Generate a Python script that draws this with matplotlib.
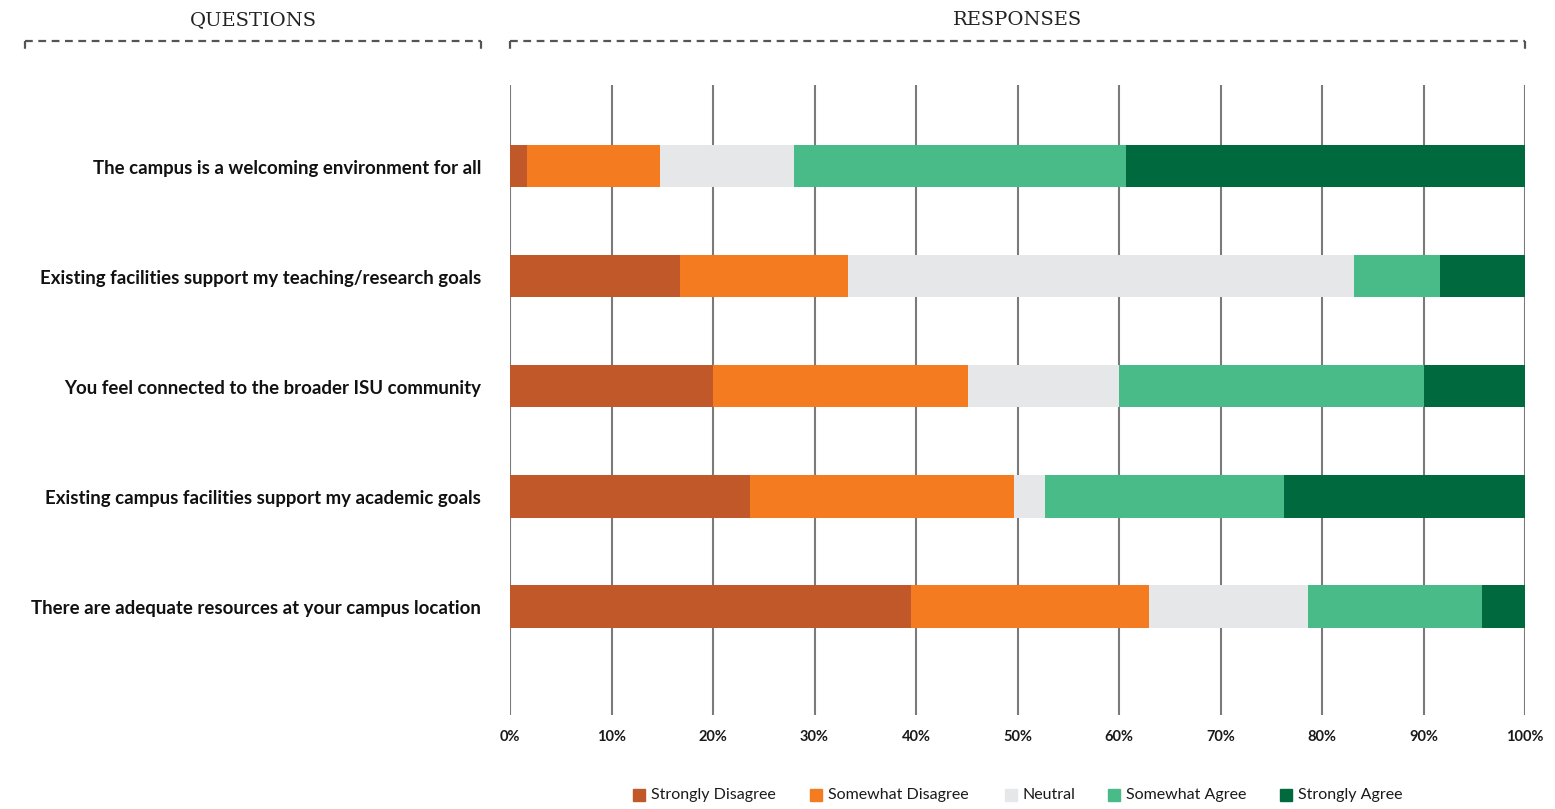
import matplotlib
matplotlib.use("Agg")
import matplotlib.pyplot as plt
from matplotlib.lines import Line2D
from matplotlib.patches import Rectangle
import numpy as np

questions = [
    "The campus is a welcoming environment for all",
    "Existing facilities support my teaching/research goals",
    "You feel connected to the broader ISU community",
    "Existing campus facilities support my academic goals",
    "There are adequate resources at your campus location",
]
categories = ["Strongly Disagree", "Somewhat Disagree", "Neutral",
              "Somewhat Agree", "Strongly Agree"]
strongly_disagree = [1.7, 16.7, 20.0, 23.6, 39.5]
somewhat_disagree = [13.1, 16.6, 25.1, 26.1, 23.5]
neutral = [13.2, 49.9, 14.9, 3.0, 15.6]
somewhat_agree = [32.7, 8.4, 30.0, 23.6, 17.2]
strongly_agree = [39.3, 8.4, 10.0, 23.7, 4.2]
tick_values = list(range(0, 101, 10))
tick_labels = [f"{v}%" for v in tick_values]

colors = ["#C0582A", "#F47B20", "#E6E7E8", "#48BB88", "#00693E"]

W, H = 1555, 809
fig = plt.figure(figsize=(W / 100, H / 100), dpi=100)
fig.patch.set_facecolor("white")


def fx(px):
    return px / W


def fy(py):
    return 1 - py / H


ax = fig.add_axes([fx(510), fy(715), fx(1525) - fx(510), fy(85) - fy(715)])
series = [strongly_disagree, somewhat_disagree, neutral, somewhat_agree, strongly_agree]
y = np.arange(len(questions))
left = np.zeros(len(questions))
for vals, col, name in zip(series, colors, categories):
    ax.barh(y, vals, left=left, height=0.39, color=col, label=name, zorder=3,
            linewidth=0)
    left += np.array(vals)

ax.set_xlim(0, 100)
ax.set_ylim(4.99, -0.736)
for v in tick_values:
    ax.axvline(v, color="#7a7a7a", lw=1.5, zorder=1)
for s in ax.spines.values():
    s.set_visible(False)
ax.set_yticks([])
ax.set_xticks(tick_values)
ax.set_xticklabels(tick_labels, fontsize=10.5, fontweight="bold",
                   family="Lato", color="#1a1a1a")
ax.tick_params(axis="x", length=0, pad=11)

# question labels, right-aligned against the left edge of the bars
label_x = fx(481)
for i, q in enumerate(questions):
    yd = ax.transData.transform((0, i + 0.02))[1]
    fig.text(label_x, yd / fig.bbox.height, q, ha="right", va="center",
             fontsize=13.4, fontweight="bold", family="Lato", color="#111111")

# section headers with dashed brackets
for label, x0, x1 in [("QUESTIONS", 25, 481), ("RESPONSES", 510, 1525)]:
    fig.text(fx((x0 + x1) / 2), fy(20), label, ha="center", va="center",
             fontsize=14, family="DejaVu Serif", color="#222222",
             fontweight="light")
    fig.add_artist(Line2D([fx(x0), fx(x1)], [fy(41), fy(41)], lw=1.6,
                          color="#555555", linestyle=(0, (3.5, 2.5))))
    for xe in (x0, x1):
        fig.add_artist(Line2D([fx(xe), fx(xe)], [fy(40.5), fy(53)], lw=1.6,
                              color="#555555", linestyle=(0, (3.5, 2.5))))

# legend
leg_items = [(633, 651), (810, 828), (1005, 1022), (1108, 1126), (1280, 1298)]
for (sx, tx), col, name in zip(leg_items, colors, categories):
    fig.add_artist(Rectangle((fx(sx), fy(801)), fx(12), 12 / H, color=col,
                             transform=fig.transFigure))
    fig.text(fx(tx), fy(795), name, ha="left", va="center", fontsize=11.5,
             family="Lato", color="#1a1a1a")

fig.savefig("out.png", dpi=100, facecolor="white")
